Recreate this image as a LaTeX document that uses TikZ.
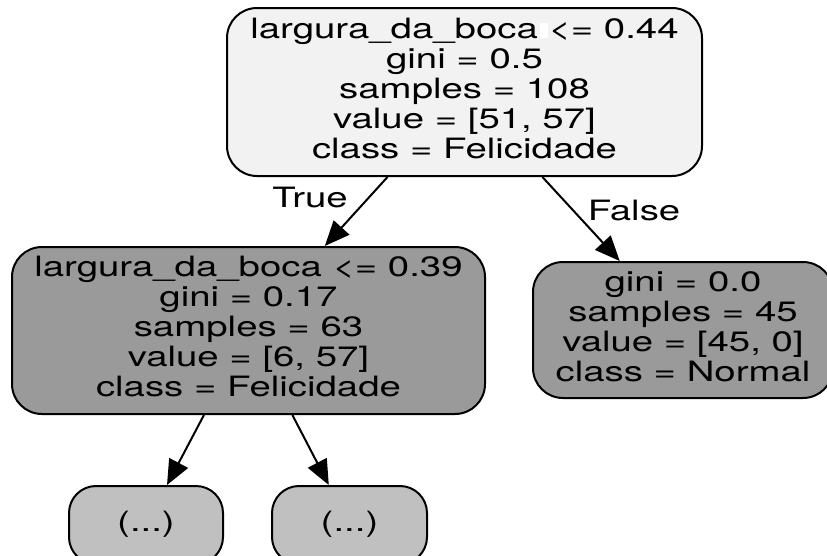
\documentclass[tikz,border=0pt]{standalone}
\usepackage{fontspec}
\setmainfont{TeX Gyre Heros}
\usetikzlibrary{arrows.meta}
\newcommand{\dtlines}[1]{\scalebox{1.37}[1]{\begin{tabular}{@{}c@{}}#1\end{tabular}}}
\definecolor{rootfill}{HTML}{F2F2F2}
\definecolor{midfill}{HTML}{9A9A9A}
\definecolor{leaffill}{HTML}{C0C0C0}
\tikzset{
  dtbox/.style={draw=black, line width=2pt, rounded corners=30pt, inner sep=0pt,
    font=\fontsize{28}{30}\selectfont},
  dtarrow/.style={line width=2pt, -{Triangle[length=25pt,width=21pt]}},
  dtlabel/.style={inner sep=0pt, font=\fontsize{28}{30}\selectfont}
}
\begin{document}
\begin{tikzpicture}[x=1pt,y=-1pt]
\useasboundingbox (0,0) rectangle (827,555);
\fill[white] (0,0) rectangle (827,555);
\node[dtbox, fill=rootfill, minimum width=475pt, minimum height=168pt] (root) at (464.5,92)
  {\dtlines{largura\_da\_boca <= 0.44\\ gini = 0.5\\ samples = 108\\ value = [51, 57]\\ class = Felicidade}};
\fill[white] (540,23) rectangle (548,38);
\node[dtbox, fill=midfill, minimum width=473pt, minimum height=167pt] (left) at (248.5,330.5)
  {\dtlines{largura\_da\_boca <= 0.39\\ gini = 0.17\\ samples = 63\\ value = [6, 57]\\ class = Felicidade}};
\node[dtbox, fill=midfill, minimum width=300pt, minimum height=136pt] (right) at (683,330)
  {\dtlines{gini = 0.0\\ samples = 45\\ value = [45, 0]\\ class = Normal}};
\node[dtbox, fill=leaffill, rounded corners=27pt, minimum width=154pt, minimum height=78pt] (bl) at (146,525)
  {\dtlines{(...)}};
\node[dtbox, fill=leaffill, rounded corners=27pt, minimum width=155pt, minimum height=78pt] (br) at (349.5,525)
  {\dtlines{(...)}};
\draw[dtarrow] (root) -- (left);
\draw[dtarrow] (root) -- (right);
\draw[dtarrow] (left) -- (bl);
\draw[dtarrow] (left) -- (br);
\node[dtlabel] (ltrue) at (310,197) {\scalebox{1.37}[1]{True}};
\node[dtlabel] (lfalse) at (634,210) {\scalebox{1.37}[1]{False}};
\end{tikzpicture}
\end{document}
